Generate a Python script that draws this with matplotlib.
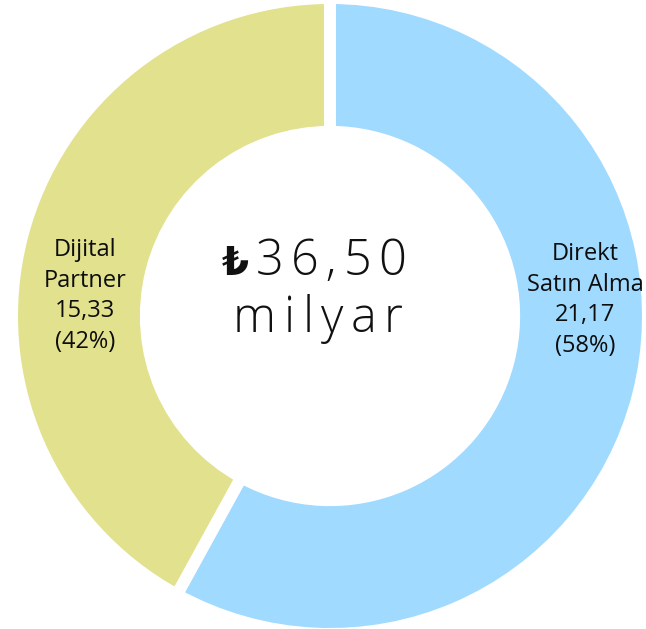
import matplotlib
matplotlib.use("Agg")
import matplotlib.pyplot as plt

labels = ["Direkt\nSatın Alma", "Dijital\nPartner"]
values = [21.17, 15.33]
value_texts = ["21,17", "15,33"]
colors = ["#A0DAFF", "#E2E18E"]
total_text = "36,50"
unit_text = "milyar"

W, H, DPI = 646, 629, 100
fig = plt.figure(figsize=(W / DPI, H / DPI), dpi=DPI)
ax = fig.add_axes([0, 0, 1, 1])

cx, cy = 330, 316          # centre in image pixels
R = 318.0                  # px per data unit (outer radius incl. half stroke)
ring_w = 0.421
gap_px = 12

ax.pie(values, colors=colors, startangle=90, counterclock=False, radius=1,
       wedgeprops=dict(width=ring_w, edgecolor="white", linewidth=gap_px * 72 / DPI))
ax.set_xlim(-cx / R, (W - cx) / R)
ax.set_ylim(-(H - cy) / R, cy / R)
ax.set_aspect("auto")
ax.axis("off")

def px(x, y):
    return (x - cx) / R, (cy - y) / R

total = sum(values)
lab_font = dict(family=["Open Sans", "DejaVu Sans"], fontsize=17, color="#0d0d0d",
                fontweight="medium", ha="center", va="center", linespacing=1.37)
pos = [(585, 300), (85, 296)]
for lab, vt, v, (x, y) in zip(labels, value_texts, values, pos):
    pct = round(v / total * 100)
    ax.text(*px(x, y), f"{lab}\n{vt}\n({pct}%)", **lab_font)

# centre text with letter spacing
fig.canvas.draw()
renderer = fig.canvas.get_renderer()

def spaced(text, x0, baseline, size, extra, first_font=None):
    x = x0
    for i, ch in enumerate(text):
        kw = dict(fontsize=size, color="#111111", ha="left", va="baseline",
                  family=["Open Sans", "DejaVu Sans"], fontweight="light")
        if i == 0 and first_font is not None:
            kw.update(first_font)
        t = ax.text(*px(x, baseline), ch, **kw)
        bb = t.get_window_extent(renderer)
        x += bb.width + extra

spaced("₺" + total_text, 222, 275, 35, 7,
       first_font=dict(family=["DejaVu Sans"], fontweight="bold", fontsize=28))
spaced(unit_text, 233, 332, 35, 7.5)

fig.savefig("out.png", dpi=DPI)
